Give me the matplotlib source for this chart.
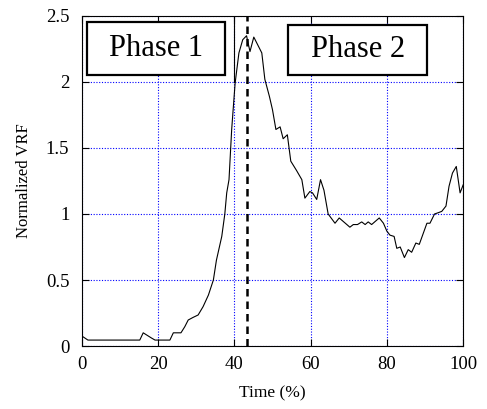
import matplotlib
matplotlib.use("Agg")
import matplotlib.pyplot as plt
from matplotlib.patches import Rectangle

plt.rcParams["font.family"] = ["Liberation Serif", "DejaVu Serif"]

# 시간(%)과 정규화 VRF 값
time_pct = [0, 1.6, 5, 10, 15.2, 16.1, 18.3, 19.2, 23.1, 24, 26, 27, 27.9, 29.2, 30.5,
            31.8, 33.2, 34.5, 35.3, 36.7, 37.5, 38, 38.6, 39.3, 40.2, 41.2, 42.2,
            43.2, 44.1, 45.1, 47.2, 48, 49.2, 50, 50.9, 52, 52.8, 53.9, 54.8, 56.3,
            57.7, 58.5, 59.8, 60.5, 61.6, 62.6, 63.5, 64.6, 66.4, 67.5, 70.3, 71.2,
            72.3, 73.4, 74.3, 75.1, 76, 78, 79.1, 80, 80.8, 81.9, 82.6, 83.5, 84.6,
            85.6, 86.5, 87.6, 88.5, 90.5, 91.3, 92.5, 93.5, 94.4, 95.5, 96.3, 97.2,
            98.2, 99.2, 100]
vrf = [0.076, 0.045, 0.045, 0.045, 0.045, 0.1, 0.06, 0.045, 0.045, 0.1, 0.1, 0.146,
       0.197, 0.217, 0.235, 0.298, 0.386, 0.5, 0.65, 0.83, 1.0, 1.16, 1.26, 1.64,
       1.99, 2.22, 2.32, 2.35, 2.23, 2.34, 2.22, 2.02, 1.89, 1.79, 1.64, 1.66, 1.57,
       1.6, 1.4, 1.33, 1.26, 1.12, 1.17, 1.16, 1.11, 1.26, 1.18, 1.0, 0.93, 0.97,
       0.90, 0.92, 0.92, 0.94, 0.92, 0.94, 0.92, 0.97, 0.93, 0.87, 0.84, 0.83, 0.74,
       0.75, 0.67, 0.73, 0.71, 0.78, 0.77, 0.93, 0.93, 1.0, 1.01, 1.02, 1.06, 1.21,
       1.31, 1.36, 1.16, 1.22]

phase_split = 43.3
phase_labels = ["Phase 1", "Phase 2"]

fig = plt.figure(figsize=(4.87, 4.09), dpi=100)
ax = fig.add_axes([0.168, 0.154, 0.783, 0.807])

ax.plot(time_pct, vrf, color="k", lw=0.8)
ax.axvline(phase_split, color="k", ls=(0, (3, 2)), lw=1.8)
ax.axvline(40, ymin=0.8, ymax=1.0, color="k", lw=0.8)

ax.set_xlim(0, 100)
ax.set_ylim(0, 2.5)
ax.set_xticks([0, 20, 40, 60, 80, 100])
ax.set_yticks([0, 0.5, 1, 1.5, 2, 2.5])
ax.set_yticklabels(["0", "0.5", "1", "1.5", "2", "2.5"])
ax.grid(True, color="b", ls=(0, (1, 1.5)), lw=0.8)
ax.tick_params(direction="in", top=True, right=True, length=5, labelsize=13.5)
ax.tick_params(axis="x", pad=7)
ax.tick_params(axis="y", pad=9)
for s in ax.spines.values():
    s.set_linewidth(0.8)

ax.set_xlabel("Time (%)", fontsize=12.5, labelpad=9)
ax.set_ylabel("Normalized VRF", fontsize=12, labelpad=10)

# 구간 표시 박스
boxes = [(0.013, 0.821, 0.362, 0.161), (0.541, 0.821, 0.365, 0.152)]
for (x0, y0, w, h), txt in zip(boxes, phase_labels):
    ax.add_patch(Rectangle((x0, y0), w, h, transform=ax.transAxes, fill=True,
                           facecolor="white", edgecolor="k", lw=1.6, zorder=5))
    ax.text(x0 + w / 2, y0 + h / 2, txt, transform=ax.transAxes, fontsize=22,
            ha="center", va="center", zorder=6)

fig.savefig("out.png", dpi=100)
